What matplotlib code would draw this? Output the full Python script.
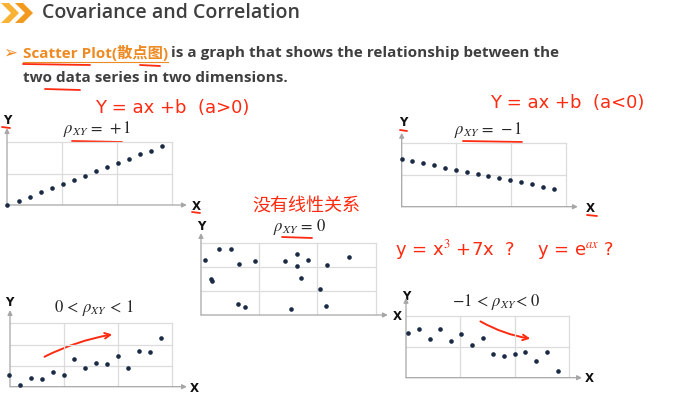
import matplotlib
matplotlib.use('Agg')
import matplotlib.pyplot as plt
from matplotlib.patches import Polygon

plt.rcParams['mathtext.fontset'] = 'stix'

# ---------------- data ----------------
p1_x = [0.0, 0.21, 0.41, 0.61, 0.81, 1.01, 1.21, 1.41, 1.61, 1.81, 2.01, 2.21, 2.41, 2.61, 2.81]
p1_y = [0.0, 0.14, 0.26, 0.40, 0.53, 0.67, 0.79, 0.93, 1.07, 1.20, 1.34, 1.47, 1.61, 1.73, 1.87]

p2_x = [0.0, 0.19, 0.39, 0.59, 0.79, 0.99, 1.19, 1.39, 1.58, 1.78, 1.98, 2.18, 2.38, 2.58, 2.78]
p2_y = [1.49, 1.43, 1.37, 1.31, 1.23, 1.16, 1.09, 1.03, 0.97, 0.89, 0.83, 0.77, 0.71, 0.63, 0.57]

p3_x = [0.07, 0.31, 0.51, 0.66, 0.93, 0.18, 0.19, 0.64, 0.76, 1.45, 1.65, 1.65, 1.84, 1.71, 1.54, 2.16, 2.05, 2.15, 2.55]
p3_y = [2.28, 2.75, 2.75, 2.12, 2.23, 1.48, 1.41, 0.46, 0.35, 2.23, 2.54, 2.02, 2.30, 1.54, 0.24, 2.06, 1.08, 0.37, 2.41]

p4_x = [-0.01, 0.18, 0.39, 0.59, 0.79, 0.99, 1.19, 1.39, 1.59, 1.79, 1.99, 2.19, 2.39, 2.59, 2.80]
p4_y = [0.54, 0.06, 0.41, 0.35, 0.68, 0.57, 1.33, 0.87, 1.11, 1.09, 1.45, 0.90, 1.71, 1.66, 2.29]

p5_x = [0.04, 0.24, 0.44, 0.63, 0.83, 1.02, 1.22, 1.42, 1.61, 1.81, 2.01, 2.20, 2.40, 2.60, 2.80]
p5_y = [1.44, 1.57, 1.25, 1.59, 1.18, 1.42, 1.05, 1.28, 0.77, 0.69, 0.78, 0.82, 0.54, 0.83, 0.23]

titles = [r'$\rho_{XY}\, =\, +1$', r'$\rho_{XY}\, =\, -1$', r'$\rho_{XY}\, =\, 0$',
          r'$0\, <\, \rho_{XY}\, <\, 1$', r'$-1\, <\, \rho_{XY}\!<\, 0$']

# ---------------- style ----------------
W, H = 675, 395
GRID = '#dcdcdc'
AXC = '#a6a6a6'
DOT = '#1b2b44'
RED = '#ff2a10'
DARK = '#3f3f3f'
ORANGE = '#ee8a22'

fig = plt.figure(figsize=(6.75, 3.95), dpi=100)
ov = fig.add_axes([0, 0, 1, 1])
ov.set_xlim(0, W)
ov.set_ylim(H, 0)
ov.axis('off')


def add_panel(ox, oy, ux, uy, nrows, xend, yend, xs, ys):
    ax = fig.add_axes([ox / W, 1 - oy / H, xend * ux / W, yend * uy / H])
    ax.set_xlim(0, xend)
    ax.set_ylim(0, yend)
    ax.axis('off')
    for r in range(1, nrows + 1):
        ax.plot([0, 3], [r, r], color=GRID, lw=0.9, zorder=1)
    for c in range(1, 4):
        ax.plot([c, c], [0, nrows], color=GRID, lw=0.9, zorder=1)
    ap = dict(arrowstyle='-|>', color=AXC, lw=0.9, mutation_scale=7, shrinkA=0, shrinkB=0)
    ax.annotate('', xy=(xend, 0), xytext=(0, 0), arrowprops=ap, annotation_clip=False)
    ax.annotate('', xy=(0, yend), xytext=(0, 0), arrowprops=ap, annotation_clip=False)
    ax.scatter(xs, ys, s=11, color=DOT, zorder=3, clip_on=False, linewidths=0)
    return ax


add_panel(7, 205, 55, 31.5, 2, 3.27, 2.44, p1_x, p1_y)
add_panel(401.7, 206.7, 54.7, 31.7, 2, 3.22, 2.33, p2_x, p2_y)
add_panel(201, 315, 58.2, 24.1, 3, 3.21, 3.4, p3_x, p3_y)
add_panel(10, 386.7, 54.1, 21.1, 3, 3.27, 3.63, p4_x, p4_y)
add_panel(406, 377.7, 54.3, 30.8, 2, 3.24, 2.59, p5_x, p5_y)

# panel titles
for t, (x, y) in zip(titles, [(97, 129), (488, 130), (300, 227), (94, 308), (496, 302)]):
    ov.text(x, y, t, fontsize=12, color='#262626', ha='center', va='center')

# axis labels
for s, (x, y) in zip(['Y', 'X', 'Y', 'X', 'Y', 'X', 'Y', 'X', 'Y', 'X'],
                     [(7, 121), (196, 207), (403, 122), (590, 209), (201, 227), (397, 316),
                      (9, 303), (194, 388), (406, 296), (589, 379)]):
    ov.text(x, y, s, fontsize=8.5, fontweight='bold', color='#111111', ha='center', va='center')

# ---------------- header ----------------
ov.add_patch(Polygon([(1, 3), (9, 3), (19, 13), (9, 23), (1, 23), (11, 13)], closed=True,
                     color='#f9b233', lw=0))
ov.add_patch(Polygon([(15, 3), (23, 3), (33, 13), (23, 23), (15, 23), (25, 13)], closed=True,
                     color='#f39a1e', lw=0))
ov.text(42, 13, 'Covariance and Correlation', fontsize=14, color=DARK, ha='left', va='center',
        family=['Open Sans', 'DejaVu Sans'], fontweight='semibold')

ov.text(3, 53, '➢', fontsize=12, color=ORANGE, ha='left', va='center', family=['DejaVu Sans'])

fig.canvas.draw()
rend = fig.canvas.get_renderer()
fam = ['Open Sans', 'Noto Sans CJK SC', 'DejaVu Sans']
t1 = ov.text(23, 53, 'Scatter Plot(散点图)', fontsize=11, color=ORANGE, fontweight='bold',
             ha='left', va='center', family=fam)
bb = t1.get_window_extent(renderer=rend)
x_end = bb.x1
ov.plot([23, x_end], [62, 62], color=ORANGE, lw=0.8)
ov.text(x_end + 3, 53, 'is a graph that shows the relationship between the', fontsize=11,
        color=DARK, fontweight='bold', ha='left', va='center', family=fam)
ov.text(23, 78, 'two data series in two dimensions.', fontsize=11,
        color=DARK, fontweight='bold', ha='left', va='center', family=fam)

# ---------------- handwritten annotations ----------------
hw = dict(color=RED, ha='left', va='center', family=['DejaVu Sans'])
ov.text(95, 108, 'Y = ax +b  (a>0)', fontsize=13, **hw)
ov.text(490, 103, 'Y = ax +b  (a<0)', fontsize=13, **hw)
ov.text(395, 250, r'y = x$^3$ +7x  ?    y = e$^{ax}$ ?', fontsize=13, **hw)
ov.text(252, 206, '没有线性关系', fontsize=13, color=RED, ha='left', va='center',
        family=['Noto Sans CJK SC'])

# red underlines
for (xa, xb, y) in [(23, 90, 64), (140, 160, 65), (45, 80, 89), (72, 122, 141), (463, 522, 141),
                    (282, 312, 237), (2, 10, 127), (192, 200, 212), (400, 407, 130), (587, 597, 215)]:
    ov.plot([xa, xb], [y, y + 1], color=RED, lw=1.3, solid_capstyle='round')

# red arrows
rap = dict(arrowstyle='->', color=RED, lw=1.4, mutation_scale=10, connectionstyle='arc3,rad=-0.08')
ov.annotate('', xy=(115, 334), xytext=(42, 358), arrowprops=rap)
rap2 = dict(arrowstyle='->', color=RED, lw=1.4, mutation_scale=10, connectionstyle='arc3,rad=0.1')
ov.annotate('', xy=(533, 339), xytext=(478, 320), arrowprops=rap2)

fig.savefig('out.png', dpi=100)
